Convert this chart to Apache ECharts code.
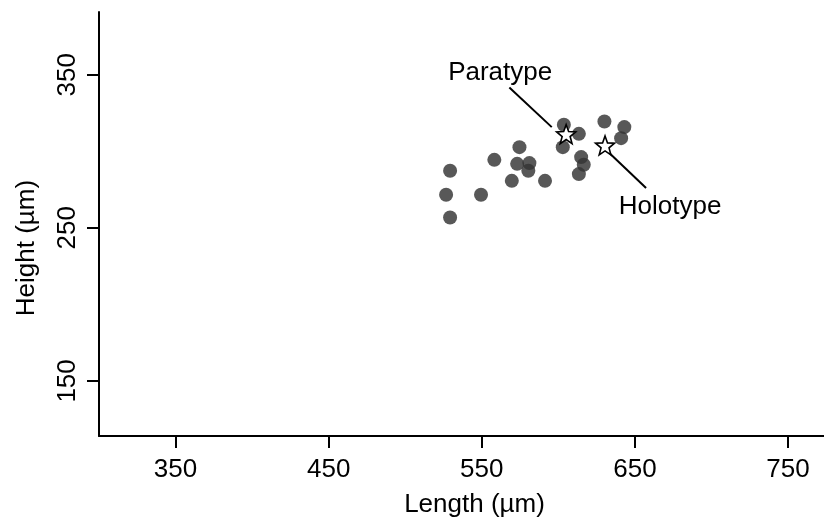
<!DOCTYPE html>
<html>
<head>
<meta charset="utf-8">
<script src="https://cdn.jsdelivr.net/npm/echarts@6/dist/echarts.min.js"></script>
<style>
  html, body { margin: 0; padding: 0; background: #fff; }
  #chart { width: 824px; height: 524px; }
</style>
</head>
<body>
<div id="chart"></div>
<script>
// Specimen measurements: shell length and height (µm)
const specimenLength = [603.6, 613.4, 602.9, 630.1, 643.1, 641.0, 614.9, 616.6, 613.4, 591.3,
                        574.6, 558.2, 573.1, 581.1, 580.4, 529.3, 569.6, 526.7, 549.5, 529.3];
const specimenHeight = [317.3, 311.4, 302.7, 319.5, 315.8, 308.6, 296.2, 291.2, 285.1, 280.7,
                        302.7, 294.4, 291.8, 292.3, 287.3, 287.3, 280.7, 271.6, 271.6, 256.7];

// Type specimens
const typeNames  = ['Paratype', 'Holotype'];
const typeLength = [605.1, 630.5];
const typeHeight = [311.2, 303.8];

// Callout text anchors and leader lines (data units)
const calloutLength = [562.0, 673.0];
const calloutHeight = [351.3, 263.7];
const leaderFrom = [[568.0, 341.7], [657.3, 276.0]];
const leaderTo   = [[595.7, 315.8], [633.8, 298.4]];

// Axis ticks
const lengthTicks = [350, 450, 550, 650, 750];
const heightTicks = [150, 250, 350];

// Five-pointed star outline for the type markers
function starPath() {
  const pts = [];
  for (let i = 0; i < 10; i++) {
    const a = (-90 + i * 36) * Math.PI / 180;
    const r = i % 2 === 0 ? 50 : 21;
    pts.push((50 + r * Math.cos(a)).toFixed(2) + ',' + (52 + r * Math.sin(a)).toFixed(2));
  }
  return 'path://M' + pts.join('L') + 'Z';
}

const FONT = '"Liberation Sans", Arial, Helvetica, sans-serif';
const FS = 26;
const chart = echarts.init(document.getElementById('chart'), null, { renderer: 'canvas' });

const axisCommon = {
  type: 'value',
  splitLine: { show: false },
  axisLine: { show: true, onZero: false, lineStyle: { color: '#000', width: 2 } },
  axisTick: { show: true, length: 12, lineStyle: { color: '#000', width: 2 } },
  nameLocation: 'middle',
  nameTextStyle: { color: '#000', fontSize: FS, fontFamily: FONT }
};

chart.setOption({
  backgroundColor: '#fff',
  animation: false,
  grid: { left: 99, top: 12, right: 0, bottom: 88, containLabel: false },
  xAxis: Object.assign({}, axisCommon, {
    min: 300, max: 773.5,
    name: 'Length (µm)',
    nameGap: 56,
    nameTextStyle: Object.assign({}, axisCommon.nameTextStyle, { padding: [0, 0, 0, 26] }),
    axisTick: Object.assign({}, axisCommon.axisTick, { customValues: lengthTicks }),
    axisLabel: { customValues: lengthTicks, margin: 21, color: '#000', fontSize: FS, fontFamily: FONT }
  }),
  yAxis: Object.assign({}, axisCommon, {
    min: 114, max: 391,
    name: 'Height (µm)',
    nameGap: 59,
    nameTextStyle: Object.assign({}, axisCommon.nameTextStyle, { padding: [0, 48, 0, 0] }),
    axisTick: Object.assign({}, axisCommon.axisTick, { customValues: heightTicks }),
    axisLabel: { customValues: heightTicks, rotate: 90, margin: 18, color: '#000', fontSize: FS, fontFamily: FONT }
  }),
  series: [
    {
      name: 'Specimens',
      type: 'scatter',
      symbol: 'circle',
      symbolSize: 14,
      itemStyle: { color: '#333', opacity: 0.82 },
      data: specimenLength.map((x, i) => [x, specimenHeight[i]]),
      z: 2
    },
    {
      name: 'Types',
      type: 'scatter',
      symbol: starPath(),
      symbolSize: 19,
      itemStyle: { color: '#fff', borderColor: '#000', borderWidth: 1.6, opacity: 1 },
      data: typeNames.map((n, i) => ({ name: n, value: [typeLength[i], typeHeight[i]] })),
      z: 4,
      markLine: {
        silent: true,
        symbol: ['none', 'none'],
        label: { show: false },
        lineStyle: { color: '#000', width: 2, type: 'solid', opacity: 1 },
        data: leaderFrom.map((p, i) => [{ coord: p }, { coord: leaderTo[i] }])
      }
    },
    {
      name: 'Callouts',
      type: 'scatter',
      symbolSize: 0,
      silent: true,
      itemStyle: { color: '#000', opacity: 1 },
      label: {
        show: true,
        position: 'inside',
        formatter: p => p.name,
        color: '#000',
        textBorderWidth: 0,
        fontSize: FS,
        fontFamily: FONT
      },
      data: typeNames.map((n, i) => ({ name: n, value: [calloutLength[i], calloutHeight[i]] })),
      z: 5
    }
  ]
});
</script>
</body>
</html>
